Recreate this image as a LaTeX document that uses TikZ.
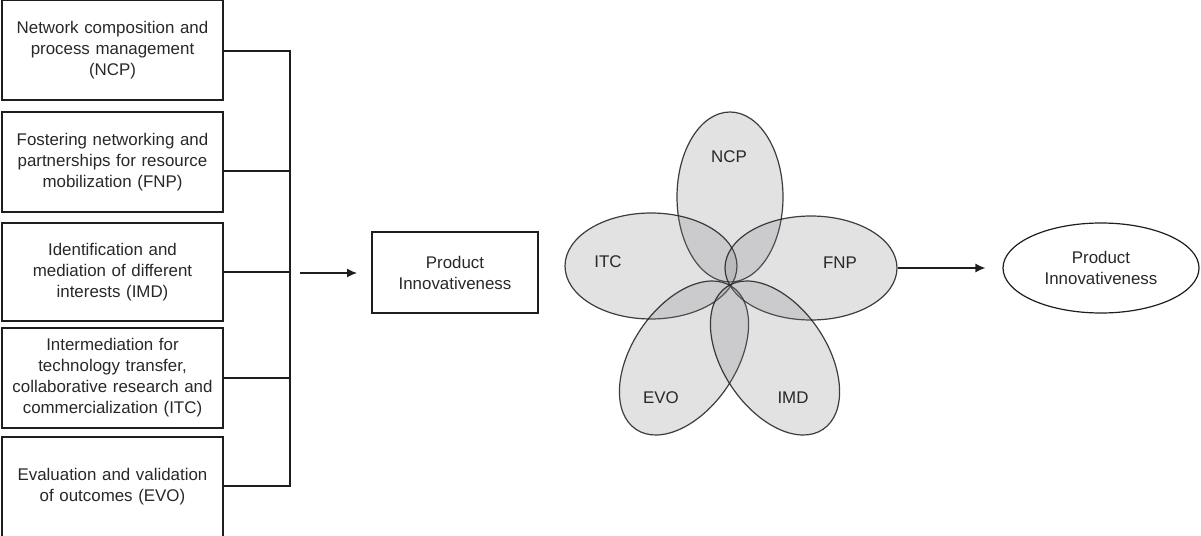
\documentclass[tikz,border=0pt]{standalone}
\usepackage{fontspec}
\setmainfont{Liberation Sans}
\usetikzlibrary{arrows.meta,shapes.geometric}
\definecolor{inkline}{RGB}{30,30,30}
\definecolor{inktext}{RGB}{40,40,40}
\definecolor{petalfill}{RGB}{128,128,132}
\tikzset{
  txt/.style={font=\fontsize{16.9}{21}\selectfont, text=inktext, align=center},
  factor/.style={txt, draw=inkline, line width=1.3pt, minimum width=221, text width=214},
  outbox/.style={txt, draw=inkline, line width=1.2pt, minimum width=166, minimum height=81, inner sep=0},
  petal/.style={ellipse, draw=inkline, draw opacity=0.85, line width=1.2pt,
                fill=petalfill, fill opacity=0.23, inner sep=0},
  link/.style={draw=inkline, line width=1.3pt},
  arr/.style={link, -{Latex[length=10pt,width=9pt]}},
}
\begin{document}
\begin{tikzpicture}[x=1pt,y=-1pt]
\useasboundingbox (0,0) rectangle (1201,535);
\clip (0,0) rectangle (1201,535);

% factor boxes
\node[factor, minimum height=100] (ncpbox) at (112.5,50) {Network composition and\\process management\\(NCP)};
\node[factor, minimum height=100] (fnpbox) at (112.5,162) {Fostering networking and\\partnerships for resource\\mobilization (FNP)};
\node[factor, minimum height=98]  (imdbox) at (112.5,272) {Identification and\\mediation of different\\interests (IMD)};
\node[factor, minimum height=100] (itcbox) at (112.5,378) {Intermediation for\\technology transfer,\\collaborative research and\\commercialization (ITC)};
\node[factor, minimum height=100] (evobox) at (112.5,487) {Evaluation and validation\\of outcomes (EVO)};

% bus joining the boxes
\coordinate (bustop) at (290,51);
\coordinate (busbot) at (290,486);
\draw[link] (ncpbox.east |- bustop) -- (bustop) -- (busbot) -- (evobox.east |- busbot);
\draw[link] ([yshift=-9pt]fnpbox.east) -- ([yshift=-9pt]fnpbox.east -| bustop);
\draw[link] (imdbox.east) -- (imdbox.east -| bustop);
\draw[link] (itcbox.east) -- (itcbox.east -| bustop);

% first outcome
\node[outbox] (pibox) at (455,272.5) {Product\\Innovativeness};
\coordinate (a1s) at (300,273);
\coordinate (a1e) at (357,273);
\draw[arr] (a1s) -- (a1e);

% flower of the five factors
\node[petal, minimum width=106, minimum height=170] (ncp) at (730,197) {};
\node[petal, minimum width=172, minimum height=106] (itc) at (651,266) {};
\node[petal, minimum width=172, minimum height=104] (fnp) at (811,268) {};
\node[petal, rotate=56, minimum width=172, minimum height=104] (evo) at (684,358) {};
\node[petal, rotate=-56, minimum width=172, minimum height=104] (imd) at (775,358) {};

\node[txt] (ncpl) at (729,157) {NCP};
\node[txt] (itcl) at (608,262) {ITC};
\node[txt] (fnpl) at (840,263) {FNP};
\node[txt] (evol) at (661,398) {EVO};
\node[txt] (imdl) at (793,398) {IMD};

% second outcome
\node[txt, ellipse, draw=inkline, line width=1.2pt, minimum width=196, minimum height=90, inner sep=0] (piell) at (1101,268) {Product\\Innovativeness};
\draw[arr] (fnp.east) -- ([xshift=-17pt]piell.west);
\end{tikzpicture}
\end{document}
